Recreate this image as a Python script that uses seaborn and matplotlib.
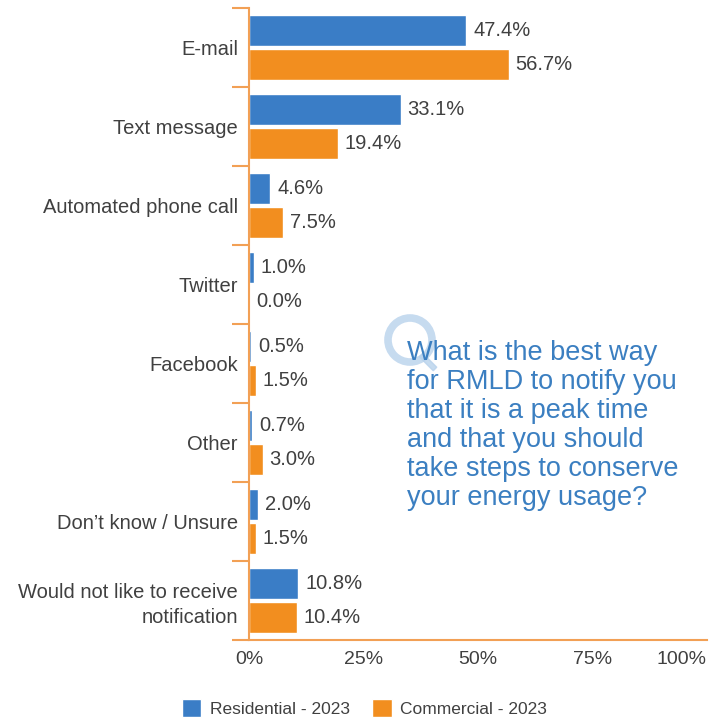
import matplotlib
matplotlib.use("Agg")
import matplotlib.pyplot as plt
import matplotlib.patches as mpatches
import seaborn as sns
import pandas as pd
import numpy as np

categories = ["E-mail", "Text message", "Automated phone call", "Twitter",
              "Facebook", "Other", "Don\u2019t know / Unsure",
              "Would not like to receive\nnotification"]
residential = [47.4, 33.1, 4.6, 1.0, 0.5, 0.7, 2.0, 10.8]
commercial = [56.7, 19.4, 7.5, 0.0, 1.5, 3.0, 1.5, 10.4]
series_names = ["Residential - 2023", "Commercial - 2023"]
x_ticks = [0, 25, 50, 75, 100]
x_tick_labels = ["0%", "25%", "50%", "75%", "100%"]
question = ("What is the best way\nfor RMLD to notify you\nthat it is a peak time\n"
            "and that you should\ntake steps to conserve\nyour energy usage?")

BLUE = "#3A7DC6"
ORANGE = "#F28E1F"
SPINE = "#F2A055"
TEXT = "#404040"
QBLUE = "#3B7FC1"

sns.set_theme(style="white")
plt.rcParams["font.family"] = ["Liberation Sans", "DejaVu Sans"]

df = pd.DataFrame({
    "category": categories * 2,
    "value": residential + commercial,
    "series": [series_names[0]] * len(categories) + [series_names[1]] * len(categories),
})

fig = plt.figure(figsize=(7.15, 7.19), dpi=100)
ax = fig.add_axes([249 / 715, 1 - 640 / 719, (707 - 249) / 715, (640 - 8) / 719])

sns.barplot(data=df, y="category", x="value", hue="series", orient="h",
            palette=[BLUE, ORANGE], width=0.86, gap=0.06, saturation=1,
            ax=ax, legend=True)

ax.set_xlim(0, 100)
ax.set_ylim(len(categories) - 0.5, -0.5)
ax.set_xlabel("")
ax.set_ylabel("")

# value labels
for cont in ax.containers:
    ax.bar_label(cont, labels=[f"{v:.1f}%" for v in cont.datavalues],
                 padding=5, fontsize=14.5, color=TEXT)

# spines
for s in ["top", "right"]:
    ax.spines[s].set_visible(False)
for s in ["left", "bottom"]:
    ax.spines[s].set_color(SPINE)
    ax.spines[s].set_linewidth(1.5)

ax.set_yticks(range(len(categories)))
ax.set_yticklabels(categories, fontsize=14.5, color=TEXT)
ax.set_yticks(np.arange(len(categories) + 1) - 0.5, minor=True)
ax.tick_params(axis="y", which="major", left=False, length=0, pad=8)
ax.tick_params(axis="y", which="minor", left=True, length=12, width=1.5,
               color=SPINE, direction="out")
for lbl in ax.get_yticklabels():
    lbl.set_linespacing(1.35)

ax.set_xticks(x_ticks)
ax.set_xticklabels(x_tick_labels, fontsize=14, color=TEXT)
ax.tick_params(axis="x", bottom=False, length=0, pad=8)
ax.get_xticklabels()[-1].set_horizontalalignment("right")

# faint "Q" icon (ring + tail) behind the question text
ring = mpatches.Circle((4.10, (719 - 340) / 100), 0.22, transform=fig.dpi_scale_trans,
                       fill=False, edgecolor="#B8D2EC", linewidth=5.5, alpha=0.8)
fig.patches.append(ring)
tail = mpatches.FancyArrow(4.21, (719 - 355) / 100, 0.14, -0.14, width=0.05,
                           head_width=0, head_length=0, transform=fig.dpi_scale_trans,
                           color="#B8D2EC", alpha=0.8)
fig.patches.append(tail)

fig.text(407 / 715, 1 - 340 / 719, question, fontsize=19.5, color=QBLUE,
         ha="left", va="top", linespacing=1.15)

sns.move_legend(ax, "center", bbox_to_anchor=(0.51, 1 - 708 / 719),
                bbox_transform=fig.transFigure, ncol=2, frameon=False,
                title=None, fontsize=12.5, handlelength=1.1, handleheight=1.2,
                columnspacing=1.3, handletextpad=0.5)
for t in ax.get_legend().get_texts():
    t.set_color(TEXT)

fig.savefig("out.png", dpi=100)
